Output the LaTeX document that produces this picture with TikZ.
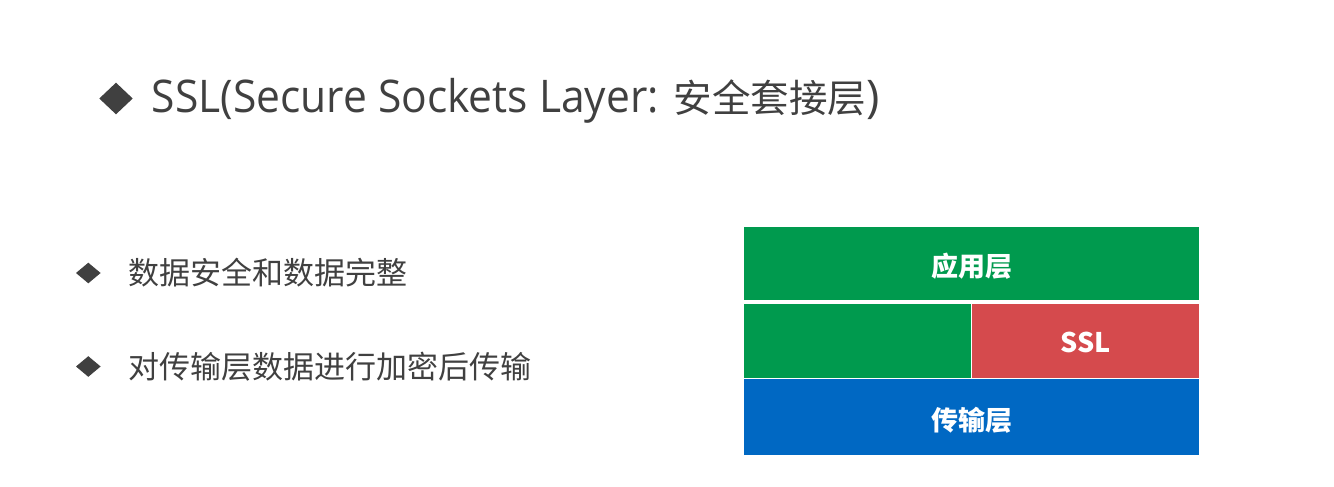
\documentclass[tikz,border=0pt]{standalone}
\usepackage{graphicx}
\usepackage{fontspec}
\setmainfont{Noto Sans CJK SC}
\newfontfamily\latinfont{Open Sans}
\definecolor{txtgray}{HTML}{404040}
\definecolor{layergreen}{HTML}{009A4E}
\definecolor{layerred}{HTML}{D54A4D}
\definecolor{layerblue}{HTML}{0068C3}
\begin{document}
\begin{tikzpicture}[x=1pt,y=-1pt,
  layerbox/.style={rectangle, inner sep=0pt, text=white, font=\fontsize{27}{30}\selectfont\bfseries},
  bodytext/.style={anchor=base west, inner sep=0pt, text=txtgray, font=\fontsize{31}{34}\selectfont},
  titletext/.style={anchor=base west, inner sep=0pt, text=txtgray, font=\fontsize{38.5}{42}\selectfont}]
\useasboundingbox (0,0) rectangle (1334,487);
\fill[white] (0,0) rectangle (1334,487);
% title
\fill[txtgray] (99.3,98.5) -- (116,82.7) -- (132.7,98.5) -- (116,114.3) -- cycle;
\node[titletext] (title) at (151.5,112.5) {\resizebox{522pt}{\height}{\latinfont\fontsize{45}{50}\selectfont SSL(Secure Sockets Layer: }安全套接层{\latinfont\fontsize{45}{50}\selectfont )}};
% bullets
\fill[txtgray] (76,273) -- (88.3,262.7) -- (100.6,273) -- (88.3,283.3) -- cycle;
\node[bodytext] (b1) at (128,284) {数据安全和数据完整};
\fill[txtgray] (76,366.5) -- (88.3,356.2) -- (100.6,366.5) -- (88.3,376.8) -- cycle;
\node[bodytext] (b2) at (128,378) {对传输层数据进行加密后传输};
% layers
\node[layerbox, fill=layergreen, minimum width=455pt, minimum height=73.3pt] (app) at (971.5,263.3) {};
\node[layerbox, fill=layergreen, minimum width=227pt, minimum height=74pt] (mid) at (857.5,341.3) {};
\node[layerbox, fill=layerred, minimum width=227pt, minimum height=74pt] (ssl) at (1085.5,341.3) {};
\node[layerbox, fill=layerblue, minimum width=455pt, minimum height=75.7pt] (trans) at (971.5,417.2) {};
\node[layerbox, yshift=-3pt] (applabel) at (app.center) {应用层};
\node[layerbox, yshift=-1pt] (ssllabel) at (ssl.center) {SSL};
\node[layerbox, yshift=-3pt] (translabel) at (trans.center) {传输层};
\end{tikzpicture}
\end{document}
